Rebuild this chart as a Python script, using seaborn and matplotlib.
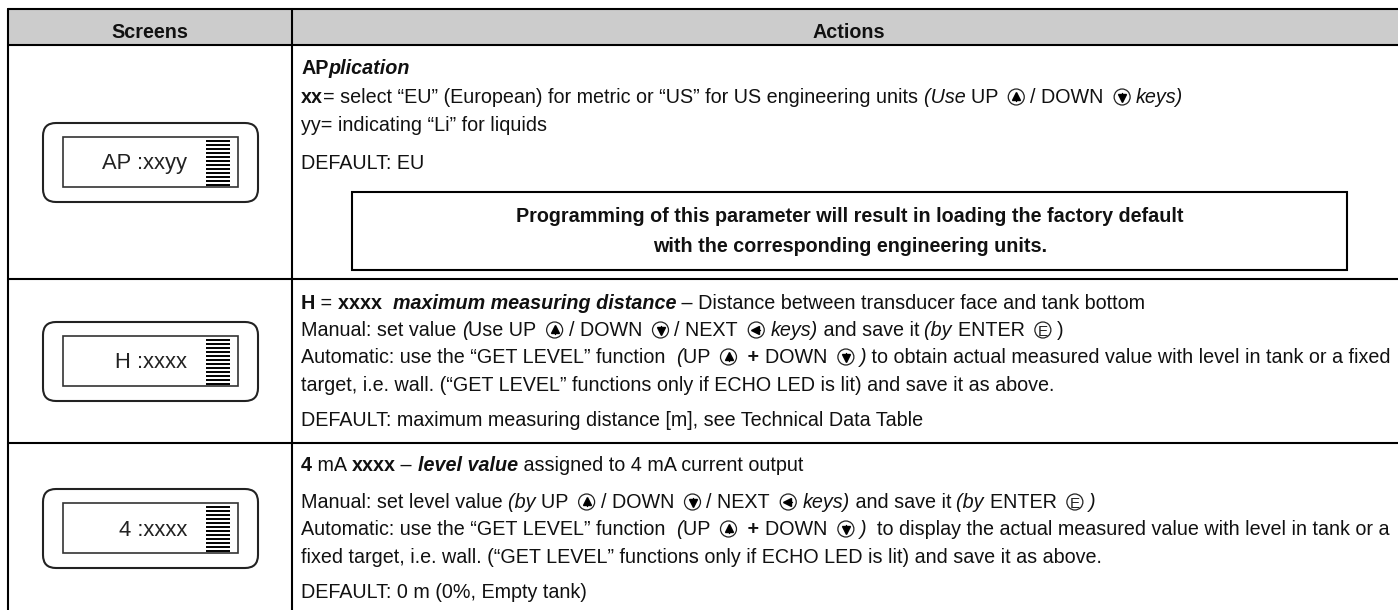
import matplotlib
matplotlib.use("Agg")
import matplotlib.pyplot as plt
import pandas as pd
import seaborn as sns
from matplotlib.patches import Circle, FancyBboxPatch, Rectangle

# table text, one list of runs per line
headers = ["Screens", "Actions"]
screen_labels = ["AP :xxyy", "H :xxxx", "4 :xxxx"]

row1_lines = [
    [("AP", "b"), ("plication", "bi")],
    [("xx", "b"), ("= select “EU” (European) for metric or “US” for US engineering units ", "r"), ("(Use ", "i"),
     ("UP ", "r"), ("up", "icon"), ("/ DOWN ", "r"), ("down", "icon"), ("keys)", "i")],
    [("yy= indicating “Li” for liquids", "r")],
    [("DEFAULT: EU", "r")],
]
row2_lines = [
    [("H", "b"), (" = ", "r"), ("xxxx  ", "b"), ("maximum measuring distance", "bi"),
     (" – Distance between transducer face and tank bottom", "r")],
    [("Manual: set value ", "r"), ("(", "i"), ("Use UP ", "r"), ("up", "icon"), ("/ DOWN ", "r"), ("down", "icon"),
     ("/ NEXT ", "r"), ("left", "icon"), ("keys)", "i"), (" and save it ", "r"), ("(by ", "i"), ("ENTER ", "r"),
     ("E", "icon"), (")", "r")],
    [("Automatic: use the “GET LEVEL” function  ", "r"), ("(", "i"), ("UP ", "r"), ("up", "icon"), (" + ", "b"),
     ("DOWN ", "r"), ("down", "icon"), (")", "i"), (" to obtain actual measured value with level in tank or a fixed", "r")],
    [("target, i.e. wall. (“GET LEVEL” functions only if ECHO LED is lit) and save it as above.", "r")],
    [("DEFAULT: maximum measuring distance [m], see Technical Data Table", "r")],
]
row3_lines = [
    [("4", "b"), (" mA ", "r"), ("xxxx", "b"), (" – ", "r"), ("level value", "bi"),
     (" assigned to 4 mA current output", "r")],
    [("Manual: set level value ", "r"), ("(by ", "i"), ("UP ", "r"), ("up", "icon"), ("/ DOWN ", "r"),
     ("down", "icon"), ("/ NEXT ", "r"), ("left", "icon"), ("keys)", "i"), (" and save it ", "r"), ("(by ", "i"),
     ("ENTER ", "r"), ("E", "icon"), (")", "i")],
    [("Automatic: use the “GET LEVEL” function  ", "r"), ("(", "i"), ("UP ", "r"), ("up", "icon"), (" + ", "b"),
     ("DOWN ", "r"), ("down", "icon"), (")", "i"), ("  to display the actual measured value with level in tank or a", "r")],
    [("fixed target, i.e. wall. (“GET LEVEL” functions only if ECHO LED is lit) and save it as above.", "r")],
    [("DEFAULT: 0 m (0%, Empty tank)", "r")],
]
notice_lines = ["Programming of this parameter will result in loading the factory default",
                "with the corresponding engineering units."]

# layout, in pixels of the page
line_y = [[68, 97, 125, 163], [303, 330, 357, 385, 420], [465, 502, 529, 557, 592]]
screen_top = [123, 322, 489]

sns.set_theme(style="white")
plt.rcParams["font.family"] = ["Liberation Sans", "DejaVu Sans"]

fig = plt.figure(figsize=(13.98, 6.10), dpi=100)
ax = fig.add_axes([0, 0, 1, 1])

# table rules
rules = pd.DataFrame({
    "x": [8, 1398, 8, 1398, 8, 1398, 8, 1398, 8, 8, 292, 292],
    "y": [9, 9, 45, 45, 279, 279, 443, 443, 9, 610, 9, 610],
    "rule": [0, 0, 1, 1, 2, 2, 3, 3, 4, 4, 5, 5],
})
sns.lineplot(data=rules, x="x", y="y", units="rule", estimator=None, sort=False,
             color="black", lw=1.5, legend=False, ax=ax)
ax.set_xlim(0, 1398)
ax.set_ylim(610, 0)
ax.axis("off")
ax.add_patch(Rectangle((8, 9), 1390, 36, fc="#cccccc", ec="none", zorder=0))

FS = 14.2
STYLES = {"r": ("normal", "normal"), "b": ("bold", "normal"), "i": ("normal", "italic"), "bi": ("bold", "italic")}
renderer = fig.canvas.get_renderer()


def draw_icon(cx, cy, kind):
    ax.add_patch(Circle((cx, cy), 8, fc="white", ec="#222222", lw=0.9, zorder=3))
    if kind == "E":
        ax.text(cx, cy, "E", fontsize=11, ha="center", va="center_baseline", zorder=4, color="#222222")
    elif kind == "left":
        ax.plot([cx - 1], [cy], marker="<", ms=6, color="black", zorder=4)
        ax.plot([cx, cx + 4], [cy, cy], color="black", lw=1, zorder=4)
    else:
        sign = 1 if kind == "up" else -1
        ax.plot([cx], [cy - sign], marker="^" if kind == "up" else "v", ms=6, color="black", zorder=4)
        ax.plot([cx, cx], [cy, cy + sign * 4], color="black", lw=1, zorder=4)


def draw_line(x, y, runs):
    for text, style in runs:
        if style == "icon":
            draw_icon(x + 13, y, text)
            x += 27
            continue
        weight, slant = STYLES[style]
        t = ax.text(x, y + 6, text, fontsize=FS, fontweight=weight, fontstyle=slant, color="#111111",
                    ha="left", va="baseline")
        x += t.get_window_extent(renderer).width
    return x


ax.text(150, 32, headers[0], fontsize=FS, fontweight="bold", ha="center", va="center", color="#111111")
ax.text(849, 32, headers[1], fontsize=FS, fontweight="bold", ha="center", va="center", color="#111111")

for rows, ys in zip([row1_lines, row2_lines, row3_lines], line_y):
    for runs, y in zip(rows, ys):
        draw_line(301, y, runs)

ax.add_patch(Rectangle((352, 192), 995, 78, fc="white", ec="black", lw=1.5))
ax.text(850, 217, notice_lines[0], fontsize=FS, fontweight="bold", ha="center", va="center", color="#111111")
ax.text(850, 246, notice_lines[1], fontsize=FS, fontweight="bold", ha="center", va="center", color="#111111")

for top, label in zip(screen_top, screen_labels):
    ax.add_patch(FancyBboxPatch((43, top), 215, 79, boxstyle="round,pad=0,rounding_size=13",
                                fc="white", ec="#222222", lw=1.5))
    ax.add_patch(Rectangle((63, top + 14), 175, 50, fc="white", ec="#333333", lw=1.2))
    ax.hlines([top + 17.5 + k * 4 for k in range(12)], 206, 230, color="black", lw=1.4)
    ax.text(187, top + 41, label, fontsize=15.8, ha="right", va="center", color="#222222")

fig.savefig("out.png", dpi=100)
